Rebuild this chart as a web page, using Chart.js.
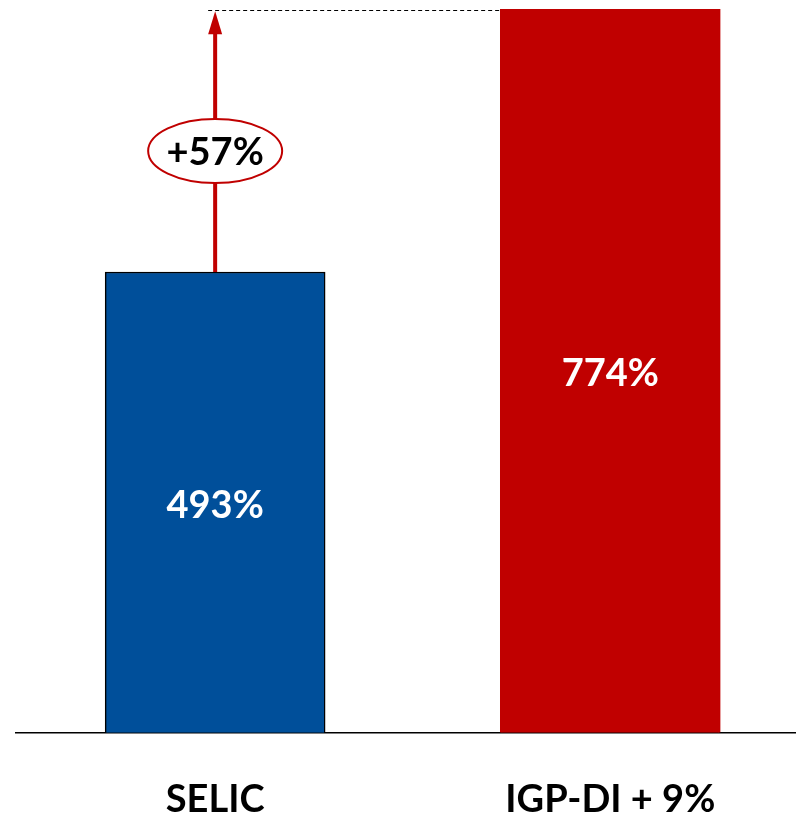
<!DOCTYPE html>
<html>
<head>
<meta charset="utf-8">
<script src="https://cdn.jsdelivr.net/npm/chart.js@4"></script>
<style>
  html, body { margin: 0; padding: 0; background: #fff; overflow: hidden; }
  #wrap { width: 796px; height: 817px; }
</style>
</head>
<body>
<div id="wrap"><canvas id="chart"></canvas></div>
<script>
// Chart data
const categories = ['SELIC', 'IGP-DI + 9%'];
const values = [493, 774];
const barColors = ['#004F9A', '#C00000'];
const borderColors = ['#000000', '#C00000'];

const FONT = 'Lato, "Open Sans", sans-serif';

// Value labels inside the bars
const valueLabels = {
    id: 'valueLabels',
    afterDatasetsDraw(chart) {
        const ctx = chart.ctx;
        const meta = chart.getDatasetMeta(0);
        ctx.save();
        ctx.fillStyle = '#fff';
        ctx.font = 'bold 38px ' + FONT;
        ctx.textAlign = 'center';
        ctx.textBaseline = 'middle';
        meta.data.forEach((bar, i) => {
            const mid = (bar.y + bar.base) / 2;
            ctx.fillText(values[i] + '%', bar.x, mid + 3);
        });
        ctx.restore();
    }
};

// Dashed guide, arrow and difference bubble
const diffArrow = {
    id: 'diffArrow',
    afterDatasetsDraw(chart) {
        const ctx = chart.ctx;
        const meta = chart.getDatasetMeta(0);
        const a = meta.data[0], b = meta.data[1];
        const xA = a.x, topA = a.y, topB = b.y;
        const leftB = b.x - b.width / 2;
        ctx.save();
        // dashed line at the level of the taller bar
        const yD = Math.round(topB) + 1.5;
        ctx.strokeStyle = '#000';
        ctx.lineWidth = 1;
        ctx.setLineDash([4, 3]);
        ctx.beginPath();
        ctx.moveTo(xA - 7, yD);
        ctx.lineTo(leftB, yD);
        ctx.stroke();
        ctx.setLineDash([]);
        // arrow shaft
        ctx.strokeStyle = '#C00000';
        ctx.fillStyle = '#C00000';
        ctx.lineWidth = 4;
        ctx.beginPath();
        ctx.moveTo(xA, topA);
        ctx.lineTo(xA, topB + 20);
        ctx.stroke();
        // arrow head
        ctx.beginPath();
        ctx.moveTo(xA, topB + 2);
        ctx.lineTo(xA - 7, topB + 25);
        ctx.lineTo(xA + 7, topB + 25);
        ctx.closePath();
        ctx.fill();
        // bubble
        const cy = 151;
        ctx.beginPath();
        ctx.ellipse(xA, cy, 67, 32, 0, 0, Math.PI * 2);
        ctx.fillStyle = '#fff';
        ctx.fill();
        ctx.lineWidth = 2;
        ctx.strokeStyle = '#C00000';
        ctx.stroke();
        const diff = Math.round((values[1] / values[0] - 1) * 100);
        ctx.fillStyle = '#000';
        ctx.font = 'bold 38px ' + FONT;
        ctx.textAlign = 'center';
        ctx.textBaseline = 'middle';
        ctx.fillText('+' + diff + '%', xA, cy + 2);
        ctx.restore();
    }
};

new Chart(document.getElementById('chart'), {
    type: 'bar',
    data: {
        datasets: [{
            data: values.map((v, i) => ({ x: i, y: v })),
            backgroundColor: barColors,
            borderColor: borderColors,
            borderWidth: 1.5,
            borderSkipped: 'bottom',
            barThickness: 220
        }]
    },
    options: {
        responsive: true,
        maintainAspectRatio: false,
        animation: false,
        layout: { padding: { left: 16, right: 0, top: 0, bottom: -50 } },
        plugins: {
            legend: { display: false },
            tooltip: { enabled: false }
        },
        scales: {
            x: {
                type: 'linear',
                offset: false,
                min: -0.504,
                max: 1.47,
                afterBuildTicks: (scale) => {
                    scale.ticks = categories.map((c, i) => ({ value: i }));
                },
                grid: { display: false, drawTicks: false },
                border: { display: true, color: '#000', width: 1.5 },
                ticks: {
                    padding: 50,
                    color: '#000',
                    autoSkip: false,
                    maxRotation: 0,
                    font: { family: FONT, size: 38, weight: 'bold', lineHeight: 0.9 },
                    callback: (v) => categories[v]
                }
            },
            y: {
                display: false,
                min: 0,
                max: 784
            }
        }
    },
    plugins: [valueLabels, diffArrow]
});
</script>
</body>
</html>
